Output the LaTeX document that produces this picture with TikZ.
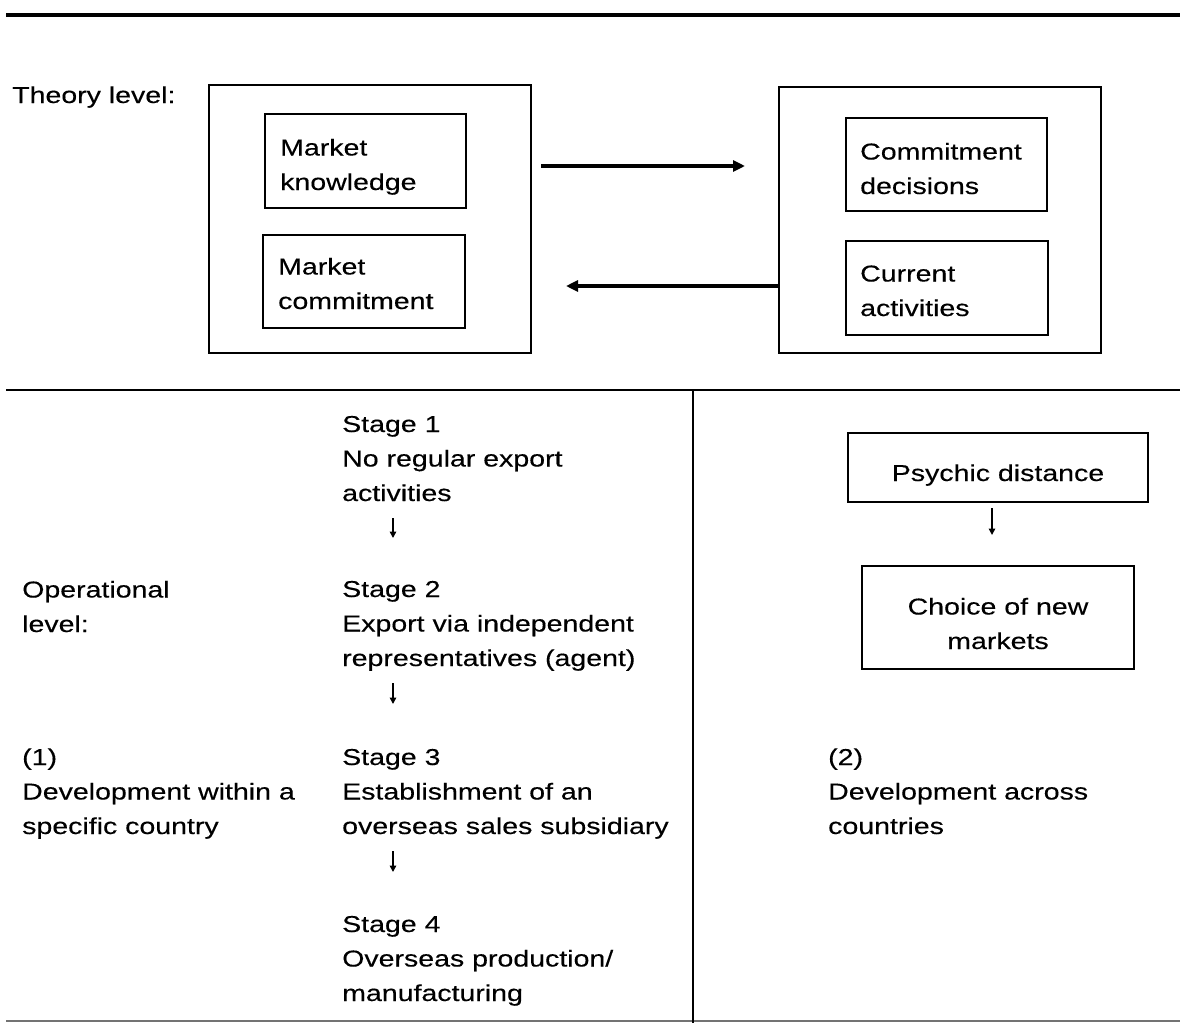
\documentclass[tikz,border=0pt]{standalone}
\usepackage{fontspec}
\setmainfont{Liberation Sans}[FakeStretch=1.24,FakeBold=0.3]
\usetikzlibrary{arrows.meta,calc}
\begin{document}
\begin{tikzpicture}[x=1pt,y=-1pt,
  every node/.style={font=\fontsize{23}{34.5}\selectfont},
  bigbox/.style={draw, line width=1.4pt, inner sep=0pt},
  txt/.style={anchor=base west, align=left, inner sep=0pt},
  ctxt/.style={anchor=base, align=center, inner sep=0pt},
  bigarrow/.style={line width=3.2pt, -{Triangle[length=12pt,width=11pt]}},
  smallarrow/.style={line width=1.5pt, -{Triangle[length=6.5pt,width=6.5pt]}}]
\useasboundingbox (0,0) rectangle (1180,1023);

% rules dividing the two levels
\draw[line width=3.6pt] (6,15) -- (1180,15);
\draw[line width=2.6pt] (6,390) -- (1180,390);
\draw[line width=2.6pt, black!55] (6,1021) -- (1180,1021);
\draw[line width=1.4pt] (693,390) -- (693,1023);

% theory level
\node[txt] (theory) at (12,103) {Theory level:};

\node[bigbox, minimum width=322pt, minimum height=268pt] (LB) at (370,219) {};
\node[bigbox, minimum width=322pt, minimum height=266pt] (RB) at (940,220) {};

\node[bigbox, minimum width=201pt, minimum height=94pt] (MK) at (365.5,161) {};
\node[bigbox, minimum width=202pt, minimum height=93pt] (MC) at (364,281.5) {};
\node[bigbox, minimum width=201pt, minimum height=93pt] (CD) at (946.5,164.5) {};
\node[bigbox, minimum width=202pt, minimum height=94pt] (CA) at (947,288) {};

% box texts, anchored at the baseline of their last line
\node[txt] (MKt) at (280,190) {Market\\knowledge};
\node[txt] (MCt) at (278,309) {Market\\commitment};
\node[txt] (CDt) at (860,194) {Commitment\\decisions};
\node[txt] (CAt) at (860,316) {Current\\activities};

\coordinate (a1s) at (541,166);
\coordinate (a1e) at (745,166);
\coordinate (a2e) at (566,286);
\draw[bigarrow] (a1s) -- (a1e);
\draw[bigarrow] (RB.west |- a2e) -- (a2e);

% operational level, column (1)
\node[txt] (oper) at (22,632) {Operational\\level:};
\node[txt] (dev1) at (22,834) {(1)\\Development within a\\specific country};

\node[txt] (s1) at (342,501) {Stage 1\\No regular export\\activities};
\node[txt] (s2) at (342,666) {Stage 2\\Export via independent\\representatives (agent)};
\node[txt] (s3) at (342,834) {Stage 3\\Establishment of an\\overseas sales subsidiary};
\node[txt] (s4) at (342,1001) {Stage 4\\Overseas production/\\manufacturing};

\coordinate (d1s) at (393,518);
\coordinate (d1e) at (393,538);
\coordinate (d2s) at (393,683);
\coordinate (d2e) at (393,704);
\coordinate (d3s) at (393,851);
\coordinate (d3e) at (393,872);
\draw[smallarrow] (d1s) -- (d1e);
\draw[smallarrow] (d2s) -- (d2e);
\draw[smallarrow] (d3s) -- (d3e);

% operational level, column (2)
\node[bigbox, minimum width=300pt, minimum height=69pt] (PD) at (998,467.5) {};
\node[bigbox, minimum width=272pt, minimum height=103pt] (CN) at (998,617.5) {};
\node[ctxt] (PDt) at (998,481) {Psychic distance};
\node[ctxt] (CNt) at (998,649) {Choice of new\\markets};
\coordinate (p1s) at (992,508);
\coordinate (p1e) at (992,535);
\draw[smallarrow] (p1s) -- (p1e);

\node[txt] (dev2) at (828,834) {(2)\\Development across\\countries};
\end{tikzpicture}
\end{document}
